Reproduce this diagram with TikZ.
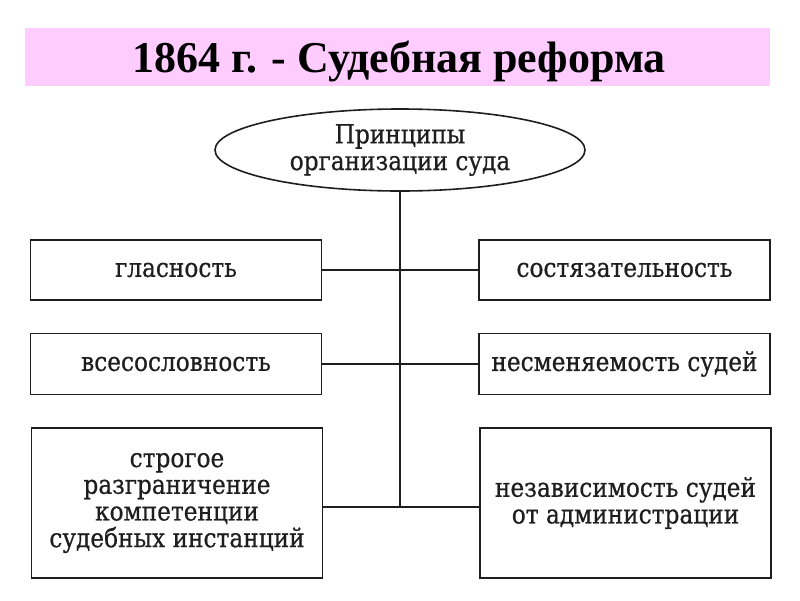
\documentclass[tikz,border=0pt]{standalone}
\usepackage{fontspec}
\setmainfont{DejaVu Serif}[FakeStretch=0.88,FakeBold=0.6]
\newfontfamily\titlefont{Liberation Serif}
\usetikzlibrary{shapes.geometric}
\definecolor{titlepink}{RGB}{255,204,255}
\definecolor{ink}{RGB}{30,30,30}
\begin{document}
\begin{tikzpicture}[x=1pt,y=-1pt,
  lbl/.style={text=ink,align=center,font=\fontsize{26.4}{26.7}\selectfont},
  box/.style={lbl,draw=ink,line width=1.6pt,minimum width=291pt,inner sep=0pt},
  link/.style={draw=ink,line width=1.7pt}]
\useasboundingbox (0,0) rectangle (800,600);
\fill[titlepink] (25,28) rectangle (770,86);
\node[font=\titlefont\bfseries\fontsize{44}{48}\selectfont,text=black,anchor=base,inner sep=0pt] (title) at (399,72) {1864 г. - Судебная реформа};
\node[lbl,ellipse,draw=ink,line width=1.6pt,minimum width=370pt,minimum height=82pt,inner sep=0pt] (ell) at (400,150) {Принципы\\организации суда};
\node[box,minimum height=60pt] (l1) at (176,270) {гласность};
\node[box,minimum height=60pt] (r1) at (624.5,270) {состязательность};
\node[box,minimum height=61pt] (l2) at (176,364) {всесословность};
\node[box,minimum height=61pt] (r2) at (624.5,364) {несменяемость судей};
\node[box,minimum height=150pt] (l3) at (177,503) {строгое\\разграничение\\компетенции\\судебных инстанций};
\node[box,minimum height=150pt] (r3) at (625.5,503) {независимость судей\\от администрации};
\coordinate (j3) at ([yshift=-4pt]l3.east);
\draw[link] (ell.south) -- (ell.south |- j3);
\draw[link] (l1.east) -- (r1.west);
\draw[link] (l2.east) -- (r2.west);
\draw[link] (j3) -- (j3 -| r3.west);
\end{tikzpicture}
\end{document}
